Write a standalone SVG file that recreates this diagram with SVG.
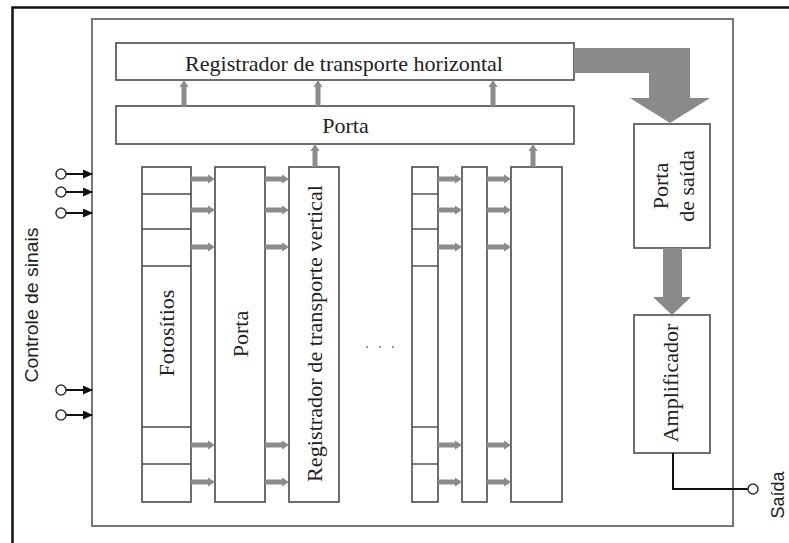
<svg xmlns="http://www.w3.org/2000/svg" width="789" height="543" viewBox="0 0 789 543">
<style>
.box{fill:#fff;stroke:#4a4a4a;stroke-width:1.6}
.frame{fill:none;stroke:#777;stroke-width:2}
.div{stroke:#4a4a4a;stroke-width:1.4}
.ga{fill:#8c8c8c}
.big{fill:#8a8a8a}
.t{font-family:"Liberation Serif","Times New Roman",serif;font-size:22px;fill:#222;text-anchor:middle}
.s{font-family:"Liberation Sans",Arial,sans-serif;font-size:19px;fill:#222;text-anchor:middle}
.ctl{stroke:#111;stroke-width:2;fill:none}
.pin{fill:#fff;stroke:#333;stroke-width:1.5}
</style>
<defs>
<path id="ha" d="M0,-2.5 H17 V-4.5 L24,0 L17,4.5 V2.5 H0 Z"/>
<path id="va26" d="M-2.5,0 V-19 H-4.5 L0,-26 L4.5,-19 H2.5 V0 Z"/>
<path id="va23" d="M-2.5,0 V-16 H-4.5 L0,-23 L4.5,-16 H2.5 V0 Z"/>
<marker id="bk" markerWidth="10" markerHeight="9" refX="9" refY="4.5" orient="auto" markerUnits="userSpaceOnUse">
<path d="M0,0 L10,4.5 L0,9 Z" fill="#111"/>
</marker>
</defs>
<rect width="789" height="543" fill="#fff"/>
<path d="M12.5,543 V7.5 H789" fill="none" stroke="#111" stroke-width="2.5"/>
<rect class="frame" x="92" y="19" width="641" height="507"/>

<g id="reg-horizontal">
<rect class="box" x="116" y="43" width="458" height="37"/>
<text class="t" x="344" y="70.5" textLength="318" lengthAdjust="spacingAndGlyphs">Registrador de transporte horizontal</text>
</g>
<g id="porta-top">
<rect class="box" x="116" y="106" width="458" height="38"/>
<text class="t" x="345.5" y="133">Porta</text>
</g>

<g id="fotositios">
<rect class="box" x="142" y="167" width="49" height="335"/>
<line class="div" x1="142" y1="194" x2="191" y2="194"/>
<line class="div" x1="142" y1="229" x2="191" y2="229"/>
<line class="div" x1="142" y1="266" x2="191" y2="266"/>
<line class="div" x1="142" y1="427" x2="191" y2="427"/>
<line class="div" x1="142" y1="464" x2="191" y2="464"/>
<text class="t" transform="translate(174,333) rotate(-90)">Fotosítios</text>
</g>
<g id="porta-col">
<rect class="box" x="215" y="167" width="50" height="335"/>
<text class="t" transform="translate(248,334) rotate(-90)">Porta</text>
</g>
<g id="reg-vertical">
<rect class="box" x="289" y="167" width="50" height="335"/>
<text class="t" transform="translate(322,333.5) rotate(-90)" textLength="297" lengthAdjust="spacingAndGlyphs">Registrador de transporte vertical</text>
</g>

<g id="fotositios-2">
<rect class="box" x="412" y="167" width="26" height="335"/>
<line class="div" x1="412" y1="194" x2="438" y2="194"/>
<line class="div" x1="412" y1="229" x2="438" y2="229"/>
<line class="div" x1="412" y1="266" x2="438" y2="266"/>
<line class="div" x1="412" y1="427" x2="438" y2="427"/>
<line class="div" x1="412" y1="464" x2="438" y2="464"/>
</g>
<g id="porta-col-2">
<rect class="box" x="462" y="167" width="25" height="335"/>
</g>
<g id="reg-vertical-2">
<rect class="box" x="511" y="167" width="51" height="335"/>
</g>

<g id="ellipsis" fill="#777">
<circle cx="367" cy="347" r="1"/>
<circle cx="380" cy="347" r="1"/>
<circle cx="393" cy="347" r="1"/>
</g>

<g id="porta-saida">
<rect class="box" x="634" y="124" width="76" height="124"/>
<text class="t" transform="translate(668,186) rotate(-90)">Porta</text>
<text class="t" transform="translate(694,186) rotate(-90)">de saída</text>
</g>
<g id="amplificador">
<rect class="box" x="634" y="315" width="76" height="138"/>
<text class="t" transform="translate(678,383) rotate(-90)">Amplificador</text>
</g>

<g id="labels">
<text class="s" transform="translate(38,305) rotate(-90)" textLength="155" lengthAdjust="spacingAndGlyphs">Controle de sinais</text>
<text class="s" transform="translate(784,495) rotate(-90)" style="font-size:18px">Saída</text>
</g>

<g id="connectors">
<g class="ga">
<use href="#va26" x="184" y="106"/>
<use href="#va26" x="318" y="106"/>
<use href="#va26" x="493" y="106"/>
<use href="#va23" x="315" y="167"/>
<use href="#va23" x="533" y="167"/>
<use href="#ha" x="191" y="179"/><use href="#ha" x="191" y="210"/><use href="#ha" x="191" y="247"/><use href="#ha" x="191" y="445"/><use href="#ha" x="191" y="482"/>
<use href="#ha" x="265" y="179"/><use href="#ha" x="265" y="210"/><use href="#ha" x="265" y="247"/><use href="#ha" x="265" y="445"/><use href="#ha" x="265" y="482"/>
<use href="#ha" x="438" y="179"/><use href="#ha" x="438" y="210"/><use href="#ha" x="438" y="247"/><use href="#ha" x="438" y="445"/><use href="#ha" x="438" y="482"/>
<use href="#ha" x="487" y="179"/><use href="#ha" x="487" y="210"/><use href="#ha" x="487" y="247"/><use href="#ha" x="487" y="445"/><use href="#ha" x="487" y="482"/>
</g>
<path class="big" d="M574,48 H690 V98 H710 L670,123 L630,98 H649 V73 H574 Z"/>
<path class="big" d="M663,248 H682 V297 H691 L672,315 L653,297 H663 Z"/>
<line class="ctl" x1="66" y1="174" x2="92" y2="174" marker-end="url(#bk)"/>
<line class="ctl" x1="66" y1="192" x2="92" y2="192" marker-end="url(#bk)"/>
<line class="ctl" x1="66" y1="213" x2="92" y2="213" marker-end="url(#bk)"/>
<line class="ctl" x1="66" y1="390" x2="92" y2="390" marker-end="url(#bk)"/>
<line class="ctl" x1="66" y1="415" x2="92" y2="415" marker-end="url(#bk)"/>
<circle class="pin" cx="61" cy="174" r="5"/>
<circle class="pin" cx="61" cy="192" r="5"/>
<circle class="pin" cx="61" cy="213" r="5"/>
<circle class="pin" cx="61" cy="390" r="5"/>
<circle class="pin" cx="61" cy="415" r="5"/>
<path class="ctl" d="M673,453 V489 H748"/>
<circle class="pin" cx="753" cy="489" r="5"/>
</g>
</svg>
